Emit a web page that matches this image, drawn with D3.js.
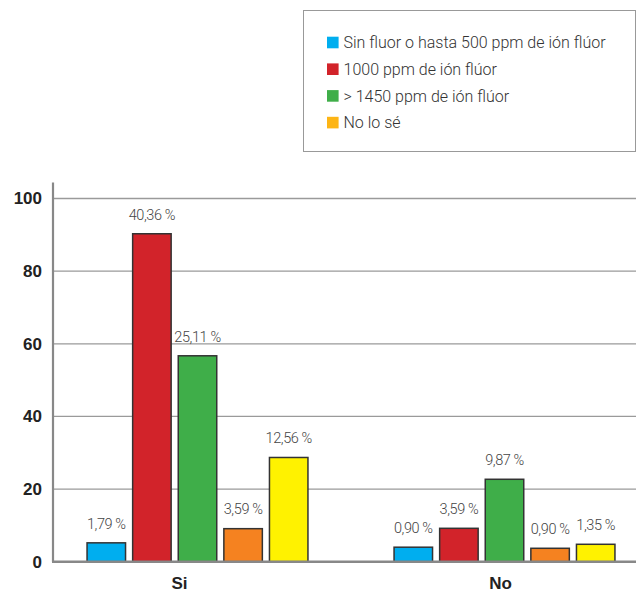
<!DOCTYPE html>
<html>
<head>
<meta charset="utf-8">
<script src="https://cdn.jsdelivr.net/npm/d3@7"></script>
<style>
  html, body { margin: 0; padding: 0; background: #fff; }
  svg { display: block; }
</style>
</head>
<body>
<svg id="chart" width="636" height="591"></svg>
<script>
// ---- data ----
const groups = ["Si", "No"];
const series = ["s1", "s2", "s3", "s4", "s5"];
const barColors = ["#00AEEF", "#D2232A", "#3FAE49", "#F58220", "#FFF200"];
const valuesSi = [5.4, 90.5, 56.9, 9.3, 28.9];
const valuesNo = [4.2, 9.4, 22.9, 3.9, 5.0];
const labelsSi = ["1,79 %", "40,36 %", "25,11 %", "3,59 %", "12,56 %"];
const labelsNo = ["0,90 %", "3,59 %", "9,87 %", "0,90 %", "1,35 %"];
const yTicks = [0, 20, 40, 60, 80, 100];
const legendNames = ["Sin fluor o hasta 500 ppm de ión flúor", "1000 ppm de ión flúor", "> 1450 ppm de ión flúor", "No lo sé"];
const legendColors = ["#00AEEF", "#D2232A", "#3FAE49", "#FDB515"];

const values = { Si: valuesSi, No: valuesNo };
const labels = { Si: labelsSi, No: labelsNo };

const svg = d3.select("#chart");
const W = 636;
const axisX = 53;

const y = d3.scaleLinear().domain([0, 100]).range([561.7, 198.5]);
const x0 = d3.scaleBand().domain(groups).range([44, 658]).padding(0);
const x1 = d3.scaleBand().domain(series).range([-111.2, 111.2]).paddingInner(0.123).paddingOuter(0);
const xLabel = d3.scaleBand().domain(groups).range([19, 661]).padding(0);

// gridlines
svg.append("g").selectAll("line")
  .data(yTicks.filter(t => t > 0))
  .join("line")
  .attr("x1", axisX).attr("x2", W)
  .attr("y1", d => y(d)).attr("y2", d => y(d))
  .attr("stroke", "#9a9a9a").attr("stroke-width", 1.3);

// y axis tick labels
const yAxis = d3.axisLeft(y).tickValues(yTicks).tickSize(0).tickPadding(11);
const gy = svg.append("g").attr("transform", `translate(${axisX},0)`).call(yAxis);
gy.select(".domain").remove();
gy.selectAll("text")
  .attr("font-family", "'Liberation Sans', Arial, sans-serif")
  .attr("font-weight", "bold").attr("font-size", 17).attr("fill", "#222");

// bars
const gGroups = svg.append("g").selectAll("g")
  .data(groups).join("g")
  .attr("transform", g => `translate(${x0(g) + x0.bandwidth() / 2},0)`);

gGroups.selectAll("rect")
  .data(g => series.map((s, i) => ({ s, i, v: values[g][i], l: labels[g][i] })))
  .join("rect")
  .attr("x", d => x1(d.s) + 0.75)
  .attr("width", x1.bandwidth() - 1.5)
  .attr("y", d => y(d.v) + 0.75)
  .attr("height", d => y(0) - y(d.v) - 0.75)
  .attr("fill", d => barColors[d.i])
  .attr("stroke", "#333").attr("stroke-width", 1.5);

gGroups.selectAll("text")
  .data(g => series.map((s, i) => ({ s, i, v: values[g][i], l: labels[g][i] })))
  .join("text")
  .attr("x", d => x1(d.s) + x1.bandwidth() / 2)
  .attr("y", d => y(d.v) - 13.5)
  .attr("text-anchor", "middle")
  .attr("font-family", "Roboto, 'Liberation Sans', sans-serif")
  .attr("font-weight", 300).attr("font-size", 14.5).attr("letter-spacing", -0.4)
  .attr("fill", "#444")
  .text(d => d.l);

// y axis line
svg.append("line").attr("x1", axisX).attr("x2", axisX).attr("y1", 182.5).attr("y2", y(0))
  .attr("stroke", "#888").attr("stroke-width", 2.2);
// baseline
svg.append("line").attr("x1", axisX - 1).attr("x2", W).attr("y1", y(0)).attr("y2", y(0))
  .attr("stroke", "#888").attr("stroke-width", 2.4);

// category labels
svg.append("g").selectAll("text")
  .data(groups).join("text")
  .attr("x", g => xLabel(g) + xLabel.bandwidth() / 2)
  .attr("y", 588.5)
  .attr("text-anchor", "middle")
  .attr("font-family", "'Liberation Sans', Arial, sans-serif")
  .attr("font-weight", "bold").attr("font-size", 17).attr("fill", "#222")
  .text(g => g);

// legend
svg.append("rect").attr("x", 303.5).attr("y", 10.5).attr("width", 332).attr("height", 141)
  .attr("fill", "#fff").attr("stroke", "#999").attr("stroke-width", 1);
const lg = svg.append("g").selectAll("g").data(legendNames).join("g")
  .attr("transform", (d, i) => `translate(327,${36.7 + i * 26.7})`);
lg.append("rect").attr("width", 11.6).attr("height", 11.6)
  .attr("fill", (d, i) => legendColors[i]);
lg.append("text").attr("x", 16.5).attr("y", 11.6)
  .attr("font-family", "Roboto, 'Liberation Sans', sans-serif")
  .attr("font-weight", 300).attr("font-size", 16).attr("fill", "#333")
  .text(d => d);
</script>
</body>
</html>
